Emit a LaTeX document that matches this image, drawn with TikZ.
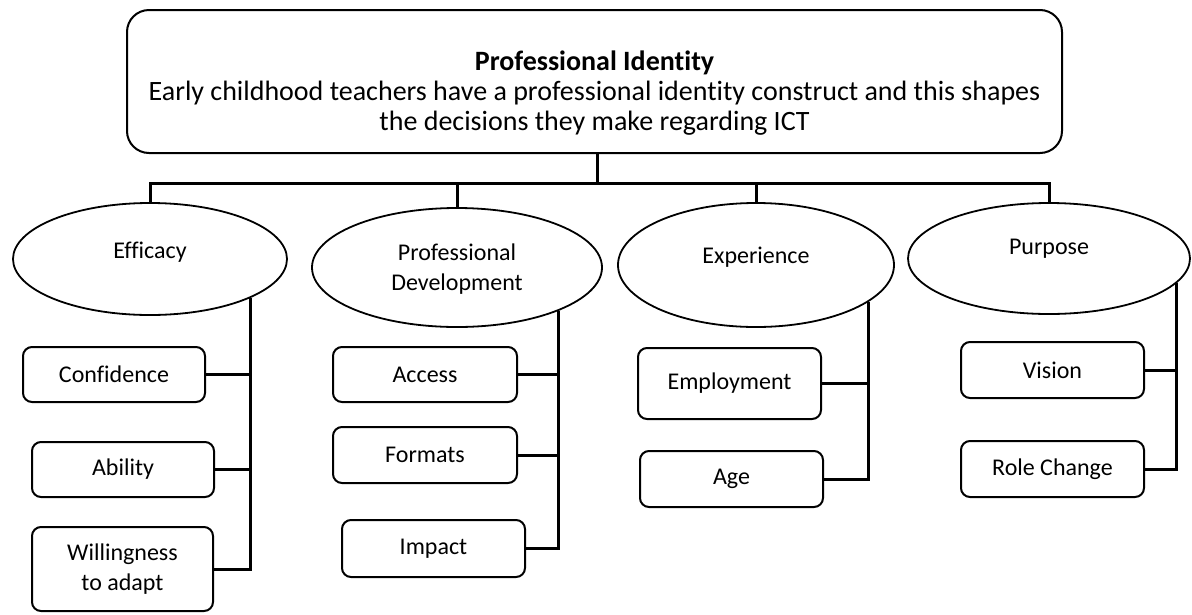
\documentclass[tikz,border=0pt]{standalone}
\usepackage{fontspec}
\setmainfont{Carlito}[Ligatures=NoCommon]
\usetikzlibrary{shapes.geometric,calc}
\begin{document}
\begin{tikzpicture}[x=1pt,y=-1pt,
  conn/.style={line width=3pt},
  sub/.style={draw,line width=2pt,rounded corners=9pt,minimum width=183pt,minimum height=56pt,inner sep=0pt,font=\fontsize{24}{30}\selectfont,align=center},
  oval/.style={draw,ellipse,line width=1.8pt,inner sep=0pt},
  lbl/.style={font=\fontsize{24}{30}\selectfont,align=center,inner sep=0pt}]
\useasboundingbox (0,0) rectangle (1192,614);
% top box
\node[draw,line width=2pt,rounded corners=22pt,minimum width=935pt,minimum height=143pt] (top) at (594.5,81.5) {};
\node[lbl,font=\fontsize{28}{30}\selectfont] (toptext) at (594.5,93) {\textbf{Professional Identity}\\Early childhood teachers have a professional identity construct and this shapes\\the decisions they make regarding ICT};
% ellipses
\node[oval,minimum width=274pt,minimum height=112pt] (e1) at (150,259) {};
\node[oval,minimum width=290pt,minimum height=119pt] (e2) at (457,267.5) {};
\node[oval,minimum width=276pt,minimum height=124pt] (e3) at (756,265) {};
\node[oval,minimum width=282pt,minimum height=111pt] (e4) at (1049,258.5) {};
\node[lbl] (t1) at (150,252) {Efficacy};
\node[lbl] (t2) at (457,269) {Professional\\Development};
\node[lbl] (t3) at (756,257) {Experience};
\node[lbl] (t4) at (1049,249) {Purpose};
% sub boxes
\node[sub,minimum width=182pt,minimum height=55pt] (c1) at (114,374.5) {Confidence};
\node[sub,minimum width=182pt,minimum height=55pt] (c2) at (123,469.5) {Ability};
\node[sub,minimum width=181pt,minimum height=84pt] (c3) at (122.5,569) {Willingness\\to adapt};
\node[sub,minimum width=184pt,minimum height=55pt] (p1) at (425,374.5) {Access};
\node[sub,minimum width=184pt,minimum height=56pt] (p2) at (425,455) {Formats};
\node[sub,minimum width=183pt,minimum height=57pt] (p3) at (433.5,548.5) {Impact};
\node[sub,minimum width=183pt,minimum height=71pt] (x1) at (729.5,383.5) {\raisebox{4pt}{Employment}};
\node[sub,minimum width=183pt,minimum height=56pt] (x2) at (731.5,479) {Age};
\node[sub,minimum width=183pt,minimum height=56pt] (r1) at (1052.5,370) {Vision};
\node[sub,minimum width=183pt,minimum height=56pt] (r2) at (1052.5,469) {Role Change};
% bus
\coordinate (bus) at (597,183);
\draw[conn] (bus |- top.south) -- (bus);
\draw[conn] (e1.north) -- (e1.north |- bus) -- (e4.north |- bus) -- (e4.north);
\draw[conn] (e2.north |- bus) -- (e2.north);
\draw[conn] (e3.north |- bus) -- (e3.north);
% branches
\coordinate (v1) at (e1.-21.5);
\draw[conn] (v1) -- (v1 |- c3.east) -- (c3.east);
\draw[conn] (c1.east) -- (c1.east -| v1);
\draw[conn] (c2.east) -- (c2.east -| v1);
\coordinate (v2) at (e2.-23.3);
\draw[conn] (v2) -- (v2 |- p3.east) -- (p3.east);
\draw[conn] (p1.east) -- (p1.east -| v2);
\draw[conn] (p2.east) -- (p2.east -| v2);
\coordinate (v3) at (e3.-18.3);
\draw[conn] (v3) -- (v3 |- x2.east) -- (x2.east);
\draw[conn] (x1.east) -- (x1.east -| v3);
\coordinate (v4) at (e4.-11);
\draw[conn] (v4) -- (v4 |- r2.east) -- (r2.east);
\draw[conn] (r1.east) -- (r1.east -| v4);
\end{tikzpicture}
\end{document}
